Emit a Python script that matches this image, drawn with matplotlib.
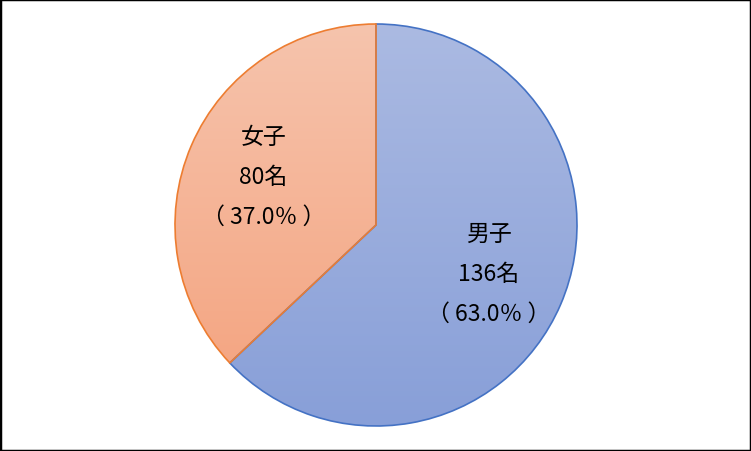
import numpy as np
import matplotlib
matplotlib.use('Agg')
import matplotlib.pyplot as plt
from matplotlib.patches import Rectangle
from matplotlib.colors import LinearSegmentedColormap

plt.rcParams['font.family'] = ['Noto Sans CJK JP', 'DejaVu Sans']

labels = ['男子', '女子']
counts = [136, 80]
shares = [63.0, 37.0]
edge_colors = ['#4472c4', '#ed7d31']
grad_colors = [('#abbae2', '#889fd8'), ('#f6c4ad', '#f4a17c')]

fig = plt.figure(figsize=(7.51, 4.52), dpi=100)
ax = fig.add_axes([174 / 751, 24 / 452, 404 / 751, 404 / 452])

# full-width brackets render narrow here, so pad them a little
texts = ['{}\n{}名\n（ {:.1f}％ ）'.format(l, c, s) for l, c, s in zip(labels, counts, shares)]
wedges, txts = ax.pie(counts, labels=texts, startangle=90, counterclock=False,
                      labeldistance=0.61, radius=1,
                      wedgeprops=dict(linewidth=1.2, facecolor='none'))
for w, ec, (top, bot), t in zip(wedges, edge_colors, grad_colors, txts):
    w.set_edgecolor(ec)
    w.set_zorder(3)
    cmap = LinearSegmentedColormap.from_list('g', [bot, top])
    grad = np.linspace(0, 1, 256).reshape(-1, 1)
    im = ax.imshow(grad, extent=[-1, 1, -1, 1], origin='lower', cmap=cmap,
                   aspect='auto', zorder=2)
    im.set_clip_path(w)
    t.set_ha('center')
    t.set_va('center')
    t.set_fontsize(16.5)
    t.set_linespacing(1.95)
    t.set_zorder(4)

ax.set_xlim(-1.005, 1.005)
ax.set_ylim(-1.005, 1.005)
ax.set_aspect('auto')
ax.axis('off')

fig.patches.append(Rectangle((0, 0), 1, 1, transform=fig.transFigure, fill=False,
                             edgecolor='black', linewidth=2.5))
fig.savefig('out.png', dpi=100)
